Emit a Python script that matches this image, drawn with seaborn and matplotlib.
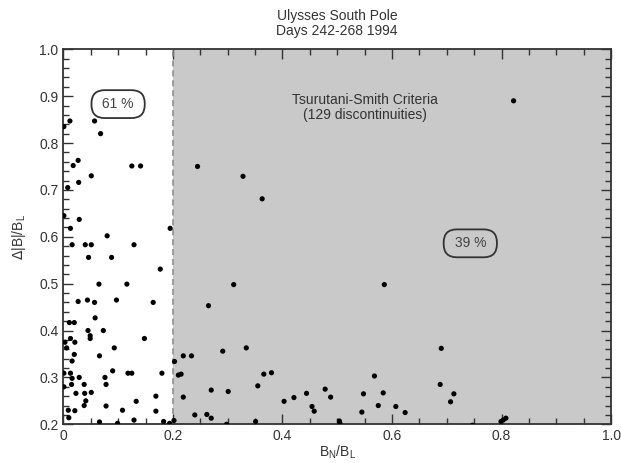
import matplotlib
matplotlib.use("Agg")
import matplotlib.pyplot as plt
import seaborn as sns
import pandas as pd
from matplotlib.ticker import MultipleLocator

# ---- data ----
bn_bl = [
    0.012, 0.001, 0.057, 0.068, 0.027, 0.018, 0.125, 0.141, 0.051, 0.028,
    0.008, 0.001, 0.029, 0.013, 0.195, 0.080, 0.016, 0.040, 0.051, 0.129,
    0.046, 0.088, 0.177, 0.065, 0.116, 0.027, 0.044, 0.057, 0.097, 0.164,
    0.058, 0.011, 0.020, 0.045, 0.073, 0.049, 0.049, 0.013, 0.148, 0.003,
    0.021, 0.006, 0.093, 0.020, 0.066, 0.016, 0.090, 0.001, 0.013, 0.118,
    0.125, 0.180, 0.029, 0.076, 0.016, 0.001, 0.015, 0.038, 0.078, 0.023,
    0.039, 0.051, 0.169, 0.041, 0.133, 0.038, 0.078, 0.009, 0.021, 0.108,
    0.169, 0.010, 0.066, 0.099, 0.129, 0.183, 0.194,
    # right of 0.2
    0.203, 0.202, 0.219, 0.234, 0.210, 0.215, 0.219, 0.240, 0.245, 0.328,
    0.363, 0.311, 0.586, 0.265, 0.291, 0.334, 0.270, 0.301, 0.355, 0.366,
    0.380, 0.403, 0.421, 0.444, 0.454, 0.458, 0.478, 0.488, 0.504, 0.505,
    0.545, 0.548, 0.568, 0.575, 0.584, 0.607, 0.624, 0.262, 0.270, 0.298,
    0.351, 0.822, 0.690, 0.688, 0.713, 0.707, 0.747, 0.799, 0.803, 0.808,
]
db_bl = [
    0.847, 0.835, 0.847, 0.820, 0.763, 0.752, 0.751, 0.751, 0.730, 0.716,
    0.705, 0.645, 0.637, 0.618, 0.618, 0.602, 0.583, 0.583, 0.583, 0.583,
    0.556, 0.556, 0.531, 0.499, 0.499, 0.462, 0.465, 0.460, 0.465, 0.460,
    0.427, 0.417, 0.417, 0.400, 0.400, 0.389, 0.383, 0.383, 0.383, 0.375,
    0.375, 0.363, 0.363, 0.349, 0.346, 0.335, 0.314, 0.309, 0.309, 0.309,
    0.309, 0.309, 0.300, 0.300, 0.298, 0.280, 0.285, 0.285, 0.285, 0.266,
    0.266, 0.268, 0.260, 0.250, 0.249, 0.240, 0.239, 0.230, 0.229, 0.230,
    0.228, 0.214, 0.205, 0.202, 0.209, 0.206, 0.202,
    # right of 0.2
    0.334, 0.208, 0.346, 0.346, 0.305, 0.307, 0.258, 0.220, 0.750, 0.729,
    0.681, 0.498, 0.498, 0.453, 0.356, 0.363, 0.273, 0.270, 0.282, 0.307,
    0.310, 0.249, 0.257, 0.266, 0.238, 0.228, 0.275, 0.258, 0.207, 0.202,
    0.226, 0.265, 0.303, 0.240, 0.267, 0.238, 0.225, 0.221, 0.213, 0.200,
    0.206, 0.890, 0.362, 0.285, 0.265, 0.248, 0.198, 0.206, 0.209, 0.213,
]
title_lines = ["Ulysses South Pole", "Days 242-268 1994"]
x_ticks = [0, 0.2, 0.4, 0.6, 0.8, 1.0]
x_tick_labels = ["0", "0.2", "0.4", "0.6", "0.8", "1.0"]
y_ticks = [0.2, 0.3, 0.4, 0.5, 0.6, 0.7, 0.8, 0.9, 1.0]
y_tick_labels = ["0.2", "0.3", "0.4", "0.5", "0.6", "0.7", "0.8", "0.9", "1.0"]
threshold = 0.2
pct_left = "61 %"
pct_right = "39 %"
criteria_text = "Tsurutani-Smith Criteria\n(129 discontinuities)"

df = pd.DataFrame({"bn": bn_bl, "db": db_bl})

sns.set_theme(style="ticks")
plt.rcParams["font.family"] = ["Liberation Sans", "DejaVu Sans"]

fig = plt.figure(figsize=(6.21, 4.63), dpi=100)
ax = fig.add_axes([0.102, 0.0836, 0.882, 0.81])

ax.axvspan(threshold, 1.0, color="#c9c9c9", zorder=0, lw=0)
ax.axvline(threshold, color="#888888", lw=1.1, ls=(0, (4, 2.5)), zorder=1)

sns.scatterplot(data=df, x="bn", y="db", ax=ax, color="black", s=14,
                edgecolor="none", zorder=3, legend=False)

ax.set_xlim(0, 1.0)
ax.set_ylim(0.2, 1.0)
ax.set_xticks(x_ticks)
ax.set_xticklabels(x_tick_labels)
ax.set_yticks(y_ticks)
ax.set_yticklabels(y_tick_labels)
ax.xaxis.set_minor_locator(MultipleLocator(0.05))
ax.yaxis.set_minor_locator(MultipleLocator(0.02))
ax.tick_params(which="both", direction="in", top=True, right=True,
               colors="#333333", labelcolor="#333333", labelsize=10)
ax.tick_params(which="major", length=7, width=1.0)
ax.tick_params(which="minor", length=4, width=1.0)
for sp in ax.spines.values():
    sp.set_color("#333333")
    sp.set_linewidth(1.3)

ax.set_xlabel(r"B$_\mathregular{N}$/B$_\mathregular{L}$", fontsize=10, color="#333333", labelpad=0)
ax.set_ylabel(r"$\Delta$|B|/B$_\mathregular{L}$", fontsize=10, color="#333333", labelpad=8)
ax.set_title("\n".join(title_lines), fontsize=10, color="#333333", pad=10, linespacing=1.15)

box = dict(boxstyle="round,pad=0.5,rounding_size=0.95", fc="none", ec="#333333", lw=1.3)
ax.text(0.100, 0.883, " " + pct_left + " ", ha="center", va="center", fontsize=10,
        color="#444444", bbox=dict(box, fc="white"), zorder=4)
ax.text(0.743, 0.586, " " + pct_right + " ", ha="center", va="center", fontsize=10,
        color="#444444", bbox=dict(box, fc="#c9c9c9"), zorder=4)
ax.text(0.551, 0.876, criteria_text, ha="center", va="center", fontsize=10,
        color="#333333", linespacing=1.1, zorder=4)

fig.savefig("out.png", dpi=100)
